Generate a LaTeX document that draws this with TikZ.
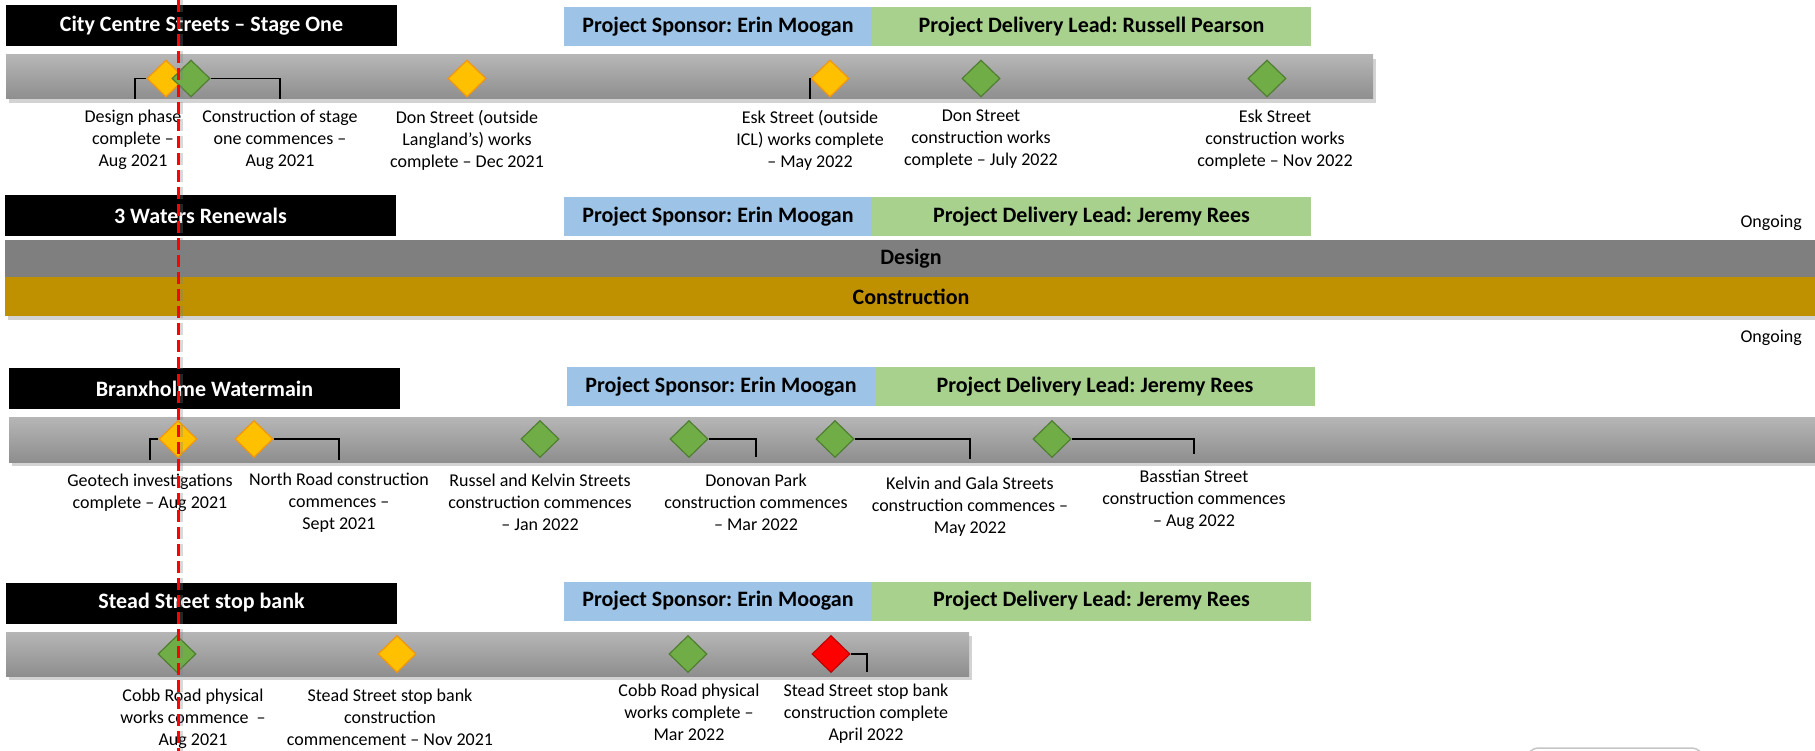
\documentclass[tikz,border=0pt]{standalone}
\usepackage{fontspec}
\setmainfont{Carlito}
\usepackage{tikz}
\usetikzlibrary{shapes.geometric,shadows}
\frenchspacing

\definecolor{sponsorblue}{HTML}{9DC3E6}
\definecolor{leadgreen}{HTML}{A9D18E}
\definecolor{amberfill}{HTML}{FFC000}
\definecolor{amberline}{HTML}{F0960F}
\definecolor{donefill}{HTML}{70AD47}
\definecolor{doneline}{HTML}{507E32}
\definecolor{latefill}{HTML}{FF0000}
\definecolor{lateline}{HTML}{C00000}
\definecolor{designgray}{HTML}{7F7F7F}
\definecolor{constgold}{HTML}{BF9000}
\definecolor{barlight}{HTML}{B6B6B6}
\definecolor{bardark}{HTML}{8E8E8E}

\begin{document}
\begin{tikzpicture}[x=1pt,y=-1pt,
    bold/.style={font=\bfseries\fontsize{22}{26}\selectfont},
    titlebox/.style={bold,fill=black,text=white,inner sep=0pt,minimum width=391pt,minimum height=41pt},
    sponsorbox/.style={bold,fill=sponsorblue,inner sep=0pt,minimum width=308pt,minimum height=39pt},
    leadbox/.style={bold,fill=leadgreen,inner sep=0pt,minimum width=439pt,minimum height=39pt},
    bar/.style={top color=barlight,bottom color=bardark,drop shadow={opacity=.35,shadow xshift=3pt,shadow yshift=-4pt}},
    ms/.style={diamond,draw,line width=1.2pt,inner sep=0pt,minimum width=38pt,minimum height=37pt},
    amber/.style={ms,fill=amberfill,draw=amberline},
    done/.style={ms,fill=donefill,draw=doneline},
    late/.style={ms,fill=latefill,draw=lateline},
    lbl/.style={align=center,anchor=north,inner sep=0pt,font=\fontsize{18}{22}\selectfont},
    callout/.style={line width=1.2pt}]
  \useasboundingbox (0,0) rectangle (1815,751);
  \clip (0,0) rectangle (1815,751);

  % City Centre Streets
  \node[titlebox] (title1) at (201.5,26) {City Centre Streets – Stage One};
  \node[sponsorbox] (sponsor1) at (718,26.5) {Project Sponsor: Erin Moogan};
  \node[leadbox] (lead1) at (1091.5,26.5) {Project Delivery Lead: Russell Pearson};
  \path[bar] (6,55) rectangle (1373,99);
  \node[amber] (a1) at (166,78.5) {};
  \node[done] (a2) at (191,78.5) {};
  \node[amber] (a3) at (467,78.5) {};
  \node[amber] (a4) at (830,78.5) {};
  \node[done] (a5) at (981,78.5) {};
  \node[done] (a6) at (1267,78.5) {};
  \coordinate (ka1) at (135,99);
  \coordinate (ka2) at (280,99);
  \coordinate (ka4) at (810,99);
  \draw[callout] (a1.west) -| (ka1) (a2.east) -| (ka2) (a4.west) -| (ka4);
  \node[lbl] (la1) at (133,110) {Design phase\\complete –\\Aug 2021};
  \node[lbl] (la2) at (280,110) {Construction of stage\\one commences –\\Aug 2021};
  \node[lbl] (la3) at (467,110) {Don Street (outside\\Langland’s) works\\complete – Dec 2021};
  \node[lbl] (la4) at (810,110) {Esk Street (outside\\ICL) works complete\\– May 2022};
  \node[lbl] (la5) at (981,110) {Don Street\\construction works\\complete – July 2022};
  \node[lbl] (la6) at (1275,110) {Esk Street\\construction works\\complete – Nov 2022};

  % 3 Waters Renewals
  \node[titlebox] (title2) at (200.5,215.5) {3 Waters Renewals};
  \node[sponsorbox] (sponsor2) at (718,216.5) {Project Sponsor: Erin Moogan};
  \node[leadbox] (lead2) at (1091.5,216.5) {Project Delivery Lead: Jeremy Rees};
  \node[bold,fill=constgold,inner sep=0pt,minimum width=1812pt,minimum height=39pt,drop shadow={opacity=.35,shadow xshift=3pt,shadow yshift=-4pt}] (construction) at (911,296.5) {Construction};
  \node[bold,fill=designgray,inner sep=0pt,minimum width=1812pt,minimum height=37pt] (design) at (911,258.5) {Design};
  \node[anchor=base east,inner sep=0pt,font=\fontsize{18}{22}\selectfont] (ongoing1) at (1802,228) {Ongoing};
  \node[anchor=base east,inner sep=0pt,font=\fontsize{18}{22}\selectfont] (ongoing2) at (1802,342) {Ongoing};

  % Branxholme Watermain
  \node[titlebox] (title3) at (204.5,388.5) {Branxholme Watermain};
  \node[sponsorbox] (sponsor3) at (721,386.5) {Project Sponsor: Erin Moogan};
  \node[leadbox,minimum width=440pt] (lead3) at (1095,386.5) {Project Delivery Lead: Jeremy Rees};
  \path[bar] (9,417) rectangle (1820,462);
  \node[amber] (b1) at (178,439) {};
  \node[amber] (b2) at (254,439) {};
  \node[done] (b3) at (540,439) {};
  \node[done] (b4) at (689,439) {};
  \node[done] (b5) at (835,439) {};
  \node[done] (b6) at (1052,439) {};
  \coordinate (kb1) at (150,460);
  \coordinate (kb2) at (339,460);
  \coordinate (kb4) at (756,457);
  \coordinate (kb5) at (970,459);
  \coordinate (kb6) at (1194,454);
  \draw[callout] (b1.west) -| (kb1) (b2.east) -| (kb2) (b4.east) -| (kb4)
    (b5.east) -| (kb5) (b6.east) -| (kb6);
  \node[lbl] (lb1) at (150,474) {Geotech investigations\\complete – Aug 2021};
  \node[lbl] (lb2) at (339,473) {North Road construction\\commences –\\Sept 2021};
  \node[lbl] (lb3) at (540,474) {Russel and Kelvin Streets\\construction commences\\– Jan 2022};
  \node[lbl] (lb4) at (756,474) {Donovan Park\\construction commences\\– Mar 2022};
  \node[lbl] (lb5) at (970,477) {Kelvin and Gala Streets\\construction commences –\\May 2022};
  \node[lbl] (lb6) at (1194,470) {Basstian Street\\construction commences\\– Aug 2022};

  % Stead Street stop bank
  \node[titlebox] (title4) at (201.5,603) {Stead Street stop bank};
  \node[sponsorbox] (sponsor4) at (718,601) {Project Sponsor: Erin Moogan};
  \node[leadbox] (lead4) at (1091.5,601) {Project Delivery Lead: Jeremy Rees};
  \path[bar] (6,632) rectangle (969,676);
  \node[done] (c1) at (177,654) {};
  \node[amber] (c2) at (397,654) {};
  \node[done] (c3) at (688,654) {};
  \node[late] (c4) at (831,654) {};
  \coordinate (kc4) at (867,672);
  \draw[callout] (c4.east) -| (kc4);
  \node[lbl] (lc1) at (193,689) {Cobb Road physical\\works commence \ –\\Aug 2021};
  \node[lbl] (lc2) at (390,689) {Stead Street stop bank\\construction\\commencement – Nov 2021};
  \node[lbl] (lc3) at (689,684) {Cobb Road physical\\works complete –\\Mar 2022};
  \node[lbl] (lc4) at (866,684) {Stead Street stop bank\\construction complete\\April 2022};

  % cut-off shape at the bottom
  \draw[gray!45,line width=1.5pt,rounded corners=14pt] (1525,748) rectangle (1705,800);

  % today line
  \coordinate (today1) at (178.5,0);
  \coordinate (today2) at (178.5,751);
  \draw[gray,opacity=.3,line width=3pt,dash pattern=on 12pt off 5pt] ([xshift=3pt]today1) -- ([xshift=3pt]today2);
  \draw[red,line width=2.5pt,dash pattern=on 12pt off 5pt] (today1) -- (today2);
\end{tikzpicture}
\end{document}
